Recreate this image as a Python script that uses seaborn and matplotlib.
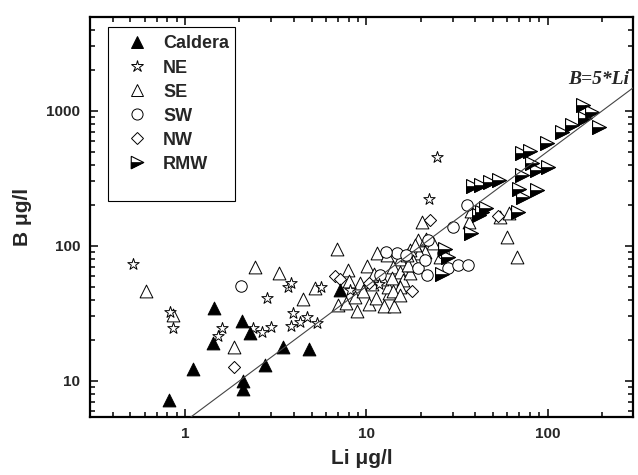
import numpy as np
import matplotlib
matplotlib.use("Agg")
import matplotlib.pyplot as plt
import seaborn as sns
from matplotlib.markers import MarkerStyle
from matplotlib.lines import Line2D
from matplotlib.patches import Rectangle
from matplotlib.ticker import LogLocator, FixedLocator, FixedFormatter, NullFormatter

# ---------------- data ----------------
caldera_li = [0.82, 1.11, 1.45, 1.43, 2.07, 2.3, 2.1, 2.1, 2.77, 3.49, 4.85, 7.2]
caldera_b = [7.2, 12.3, 34.7, 19.1, 27.8, 22.7, 10.0, 8.7, 13.1, 17.9, 17.3, 47]

ne_li = [0.52, 0.83, 0.86, 1.60, 1.53, 2.38, 2.67, 2.99, 2.85, 3.70, 3.85, 3.86,
         3.96, 4.33, 4.73, 5.37, 5.6, 8.1, 11.8, 22.2, 24.6]
ne_b = [74, 32.5, 24.7, 24.5, 21.5, 24.7, 23.1, 25.2, 41.2, 49.7, 53.2, 25.3,
        31.9, 27.4, 29.8, 26.9, 50, 47.2, 52.4, 223, 456]

se_li = [0.61, 0.86, 1.87, 2.45, 3.32, 4.5, 5.2, 6.9, 7.0,
         7.9, 7.75, 8.9, 8.7, 10.1, 11.5, 13.0, 9.3, 10.3, 11.3, 12.5, 14.2,
         13.4, 13.2, 15.3, 14.0, 15.3, 16.0, 17.4, 15.3, 14.0, 15.3, 17.9,
         19.3, 21.3, 23.4, 21.0, 19.5, 17.4, 18.6, 18.1, 17.0, 20.3, 25.5,
         8.0, 9.6, 10.8, 12.2, 11.0, 13.8, 16.8,
         37.1, 38.0, 54.6, 61.0, 59.5, 68.0]
se_b = [46.4, 30.8, 17.9, 69.8, 63, 40.4, 49, 95, 36.5,
        66, 38, 33, 42, 71, 89, 86, 53, 37, 41, 36, 36,
        45, 50, 80, 70, 64, 56, 63, 50, 46, 43, 72,
        110, 112, 105, 90, 89, 94, 101, 77, 72, 150, 83,
        55, 46, 52, 57, 62, 58, 85,
        150, 180, 163, 174, 117, 83]

sw_li = [2.05, 11.9, 14.8, 16.5, 19.3, 21.0, 21.6, 22.0, 26.5, 28.2, 32.0, 36.4,
         30.2, 35.9, 12.8]
sw_b = [50.6, 61, 89, 86, 69, 79, 61, 111, 89, 69, 72, 72, 138, 201, 90]

nw_li = [1.87, 6.7, 7.2, 10.3, 17.9, 22.5, 53.0]
nw_b = [12.7, 60, 57, 53, 46.4, 156, 167]

rmw_li = [26.1, 27.2, 28.2, 37.9, 42.0, 43.5, 46.0, 39.0, 42.8, 48.0, 54.0, 68.8,
          70.0, 73.0, 87.0, 72.0, 82.0, 87.6, 100.0, 72.4, 79.6, 99.0, 120.0,
          136.0, 156.0, 176.0, 161.0, 193.0]
rmw_b = [62, 95, 83, 125, 168, 178, 190, 278, 283, 299, 308, 179,
         264, 230, 260, 335, 414, 365, 385, 489, 507, 580, 700,
         780, 1110, 985, 880, 760]

line_li = [0.3, 300]
line_factor = 5

x_ticks = [1, 10, 100]
x_ticklabels = ["1", "10", "100"]
y_ticks = [10, 100, 1000]
y_ticklabels = ["10", "100", "1000"]

legend_labels = ["Caldera", "NE", "SE", "SW", "NW", "RMW"]

# ---------------- style ----------------
sns.set_style("ticks")
plt.rcParams["font.family"] = ["Liberation Sans", "DejaVu Sans"]
plt.rcParams["font.weight"] = "bold"

fig = plt.figure(figsize=(6.38, 4.75), dpi=100)
ax = fig.add_axes([90 / 638, 58 / 475, 543 / 638, 400 / 475])
ax.set_xscale("log")
ax.set_yscale("log")

EW = 0.7
tri_full = MarkerStyle([(-1, 1), (1, 0), (-1, -1), (-1, 1)])
tri_half = MarkerStyle([(-1, 0), (1, 0), (-1, -1), (-1, 0)])

sns.scatterplot(x=se_li, y=se_b, marker="^", s=85, facecolor="white",
                edgecolor="black", linewidth=EW, ax=ax, zorder=2)
sns.scatterplot(x=sw_li, y=sw_b, marker="o", s=68, facecolor="white",
                edgecolor="black", linewidth=EW, ax=ax, zorder=2)
sns.scatterplot(x=nw_li, y=nw_b, marker="D", s=38, facecolor="white",
                edgecolor="black", linewidth=EW, ax=ax, zorder=2)
sns.scatterplot(x=ne_li, y=ne_b, marker="*", s=75, facecolor="white",
                edgecolor="black", linewidth=EW, ax=ax, zorder=2)
sns.scatterplot(x=caldera_li, y=caldera_b, marker="^", s=85, facecolor="black",
                edgecolor="black", linewidth=EW, ax=ax, zorder=2)
sns.scatterplot(x=rmw_li, y=rmw_b, marker=tri_full, s=100, facecolor="white",
                edgecolor="black", linewidth=0.8, ax=ax, zorder=2)
sns.scatterplot(x=rmw_li, y=rmw_b, marker=tri_half, s=100, facecolor="black",
                edgecolor="black", linewidth=0.5, ax=ax, zorder=2)

line_x = np.array(line_li)
sns.lineplot(x=line_x, y=line_factor * line_x, color="#444444", linewidth=0.8,
             ax=ax, zorder=3)

ax.text(283, 1480, "B=5*Li", ha="right", va="bottom", fontsize=14,
        fontfamily=["Liberation Serif", "DejaVu Serif"], fontweight="bold",
        fontstyle="italic")

ax.set_xlim(0.3, 296)
ax.set_ylim(5.4, 4960)

ax.xaxis.set_major_locator(FixedLocator(x_ticks))
ax.xaxis.set_major_formatter(FixedFormatter(x_ticklabels))
ax.yaxis.set_major_locator(FixedLocator(y_ticks))
ax.yaxis.set_major_formatter(FixedFormatter(y_ticklabels))
ax.xaxis.set_minor_locator(LogLocator(base=10, subs=np.arange(2, 10)))
ax.yaxis.set_minor_locator(LogLocator(base=10, subs=np.arange(2, 10)))
ax.xaxis.set_minor_formatter(NullFormatter())
ax.yaxis.set_minor_formatter(NullFormatter())

ax.tick_params(which="both", direction="in", top=True, right=True,
               labelsize=11, width=1.3, pad=7)
ax.tick_params(which="major", length=6)
ax.tick_params(which="minor", length=3.5)
for lab in ax.get_xticklabels() + ax.get_yticklabels():
    lab.set_fontweight("bold")
for sp in ax.spines.values():
    sp.set_linewidth(1.6)
    sp.set_color("black")

ax.set_xlabel("Li \u03bcg/l", fontsize=15, fontweight="bold", labelpad=6)
ax.set_ylabel("B \u03bcg/l", fontsize=15, fontweight="bold", labelpad=10)

# ---------------- legend ----------------
ms = 9
handles = [
    Line2D([], [], linestyle="none", marker="^", markersize=ms, markerfacecolor="black",
           markeredgecolor="black", markeredgewidth=EW),
    Line2D([], [], linestyle="none", marker="*", markersize=ms, markerfacecolor="white",
           markeredgecolor="black", markeredgewidth=EW),
    Line2D([], [], linestyle="none", marker="^", markersize=ms, markerfacecolor="white",
           markeredgecolor="black", markeredgewidth=EW),
    Line2D([], [], linestyle="none", marker="o", markersize=8, markerfacecolor="white",
           markeredgecolor="black", markeredgewidth=EW),
    Line2D([], [], linestyle="none", marker="D", markersize=6, markerfacecolor="white",
           markeredgecolor="black", markeredgewidth=EW),
    (Line2D([], [], linestyle="none", marker=tri_full, markersize=ms, markerfacecolor="white",
            markeredgecolor="black", markeredgewidth=0.8),
     Line2D([], [], linestyle="none", marker=tri_half, markersize=ms, markerfacecolor="black",
            markeredgecolor="black", markeredgewidth=0.5)),
]
leg = ax.legend(handles, legend_labels, loc="upper left",
                bbox_to_anchor=((122.6 - 90) / 543, (417 - 35.5) / 400),
                frameon=False, borderpad=0, borderaxespad=0,
                handlelength=1.6, handletextpad=0.64, labelspacing=0.39,
                prop={"size": 13, "weight": "bold"})
ax.add_patch(Rectangle(((108 - 90) / 543, (417 - 201) / 400), 127 / 543, 174 / 400,
                       transform=ax.transAxes, fill=False, edgecolor="black",
                       linewidth=0.8, zorder=5))

fig.savefig("out.png", dpi=100)
